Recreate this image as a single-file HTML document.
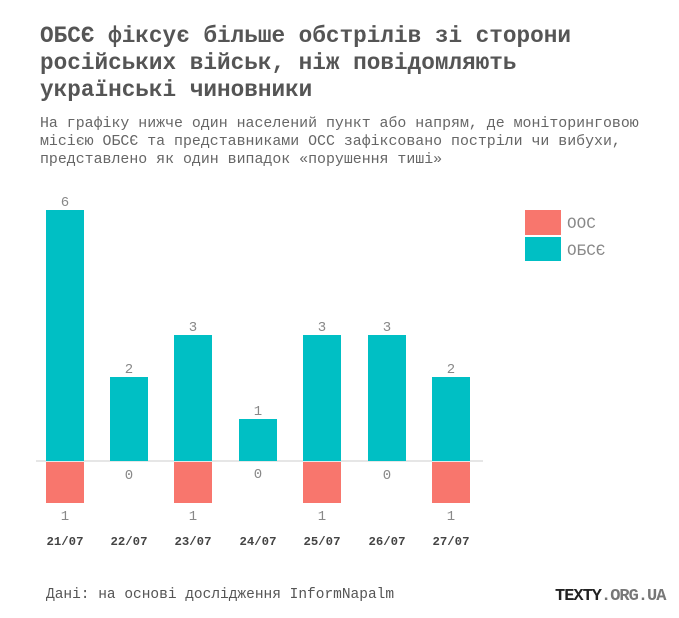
<!DOCTYPE html>
<html><head><meta charset="utf-8"><style>
body{margin:0;background:#fff;}
svg text{font-family:"Liberation Mono","DejaVu Sans Mono",monospace;}
</style></head><body>
<svg width="679" height="613" xmlns="http://www.w3.org/2000/svg">
<g fill="#555" font-weight="bold" font-size="22.7">
<text x="40" y="42">ОБСЄ фіксує більше обстрілів зі сторони</text>
<text x="40" y="69">російських військ, ніж повідомляють</text>
<text x="40" y="96">українські чиновники</text>
</g>
<g fill="#666" font-size="14.9">
<text x="40" y="127">На графіку нижче один населений пункт або напрям, де моніторинговою</text>
<text x="40" y="145">місією ОБСЄ та представниками ОСС  зафіксовано постріли чи вибухи,</text>
<text x="40" y="163">представлено як один випадок «порушення тиші»</text>
</g>
<line x1="36" y1="461" x2="483" y2="461" stroke="#ccc" stroke-width="1"/>
<g fill="#00BFC4">
<rect x="46" y="210" width="38" height="251"/>
<rect x="110" y="377" width="38" height="84"/>
<rect x="174" y="335" width="38" height="126"/>
<rect x="239" y="419" width="38" height="42"/>
<rect x="303" y="335" width="38" height="126"/>
<rect x="368" y="335" width="38" height="126"/>
<rect x="432" y="377" width="38" height="84"/>
</g>
<g fill="#F8766D">
<rect x="46" y="462" width="38" height="41"/>
<rect x="174" y="462" width="38" height="41"/>
<rect x="303" y="462" width="38" height="41"/>
<rect x="432" y="462" width="38" height="41"/>
</g>
<g fill="#888" font-size="14" text-anchor="middle">
<text x="65" y="206">6</text><text x="129" y="373">2</text><text x="193" y="331">3</text>
<text x="258" y="415">1</text><text x="322" y="331">3</text><text x="387" y="331">3</text><text x="451" y="373">2</text>
<text x="129" y="479">0</text><text x="258" y="478">0</text><text x="387" y="479">0</text>
<text x="65" y="520">1</text><text x="193" y="520">1</text><text x="322" y="520">1</text><text x="451" y="520">1</text>
</g>
<g fill="#444" font-size="12.3" font-weight="bold" text-anchor="middle">
<text x="65" y="545">21/07</text><text x="129" y="545">22/07</text><text x="193" y="545">23/07</text>
<text x="258" y="545">24/07</text><text x="322" y="545">25/07</text><text x="387" y="545">26/07</text><text x="451" y="545">27/07</text>
</g>
<rect x="525" y="210" width="36" height="25" fill="#F8766D"/>
<rect x="525" y="237" width="36" height="24" fill="#00BFC4"/>
<g fill="#888" font-size="16">
<text x="567" y="228">ООС</text>
<text x="567" y="255">ОБСЄ</text>
</g>
<text x="46" y="598" fill="#555" font-size="14.5">Дані: на основі дослідження InformNapalm</text>
<text x="555" y="600" font-family="Liberation Sans,sans-serif" font-size="17" font-weight="bold" letter-spacing="-1" fill="#222">TEXTY<tspan fill="#777">.ORG.UA</tspan></text>
</svg>
</body></html>
